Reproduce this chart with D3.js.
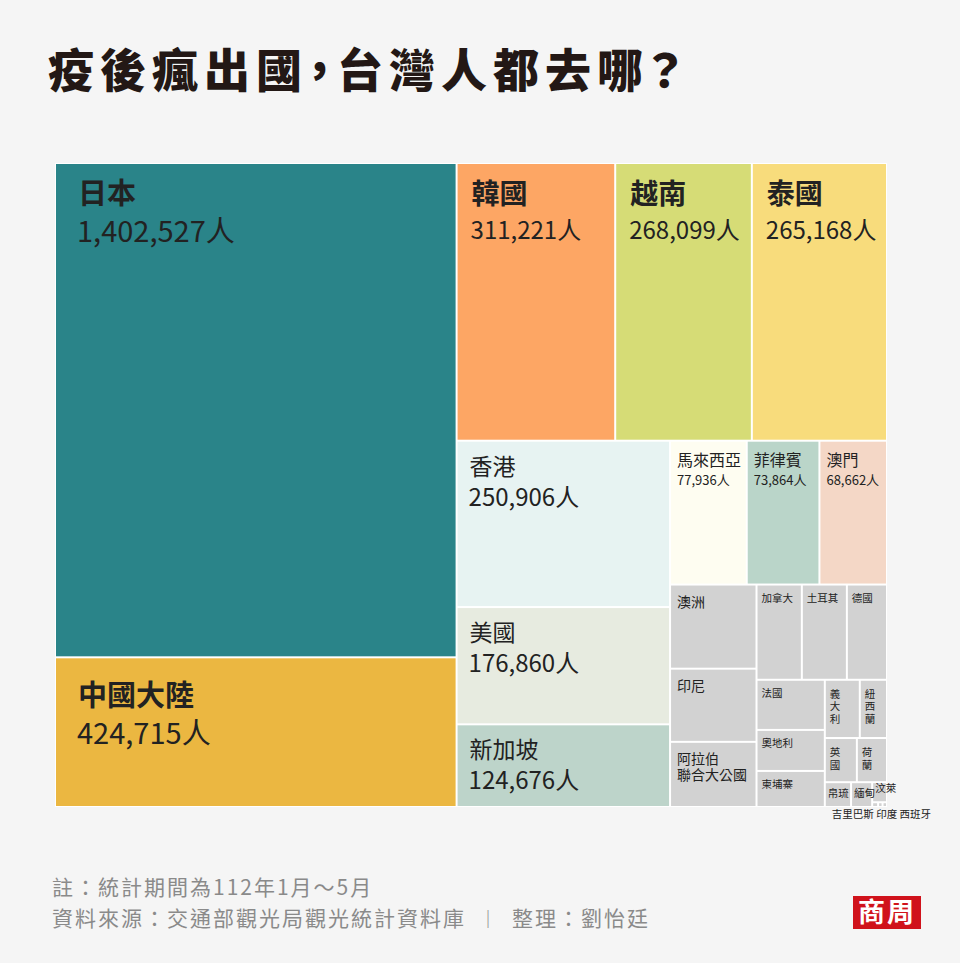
<!DOCTYPE html>
<html>
<head>
<meta charset="utf-8">
<script src="https://cdn.jsdelivr.net/npm/d3@7"></script>
<style>
  html, body { margin: 0; padding: 0; background: #f5f5f5; }
  svg { display: block; font-family: "Noto Sans CJK TC", "Noto Sans", sans-serif; }
</style>
</head>
<body>
<svg id="chart" width="960" height="963"></svg>
<script>
// 112年1月～5月 出國人次（小國數值為由圖面積估計）
const countries = [
  "日本", "中國大陸", "韓國", "越南", "泰國",
  "香港", "美國", "新加坡",
  "馬來西亞", "菲律賓", "澳門",
  "澳洲", "印尼", "阿拉伯\n聯合大公國",
  "加拿大", "土耳其", "德國",
  "法國", "奧地利", "柬埔寨",
  "義大利", "紐西蘭", "英國", "荷蘭",
  "帛琉", "緬甸", "汶萊", "吉里巴斯", "印度", "西班牙"
];
const visitors = [
  1402527, 424715, 311221, 268099, 265168,
  250906, 176860, 124676,
  77936, 73864, 68662,
  51400, 44700, 39800,
  30500, 30300, 27000,
  24200, 19800, 17400,
  14400, 11200, 10000, 9400,
  4600, 3700, 2100, 200, 150, 150
];
const colors = [
  "#2a8489", "#ebb741", "#fda664", "#d6dc76", "#f8dc7c",
  "#e7f3f2", "#e7ebe0", "#bdd4ca",
  "#fefdf1", "#bad5c9", "#f4d7c6"
];
const otherColor = "#d2d2d2";

// grouping of the indexes above, alternating columns / rows
const groups = [[0, 1], [[2, 3, 4], [[5, 6, 7], [[8, 9, 10], [[11, 12, 13], [[14, 15, 16],
  [[17, 18, 19], [[20, 21], [22, 23], [24, 25, [26, [27, 28, 29]]]]]]]]]]];

const svg = d3.select("#chart");
const chartLeft = 56, chartTop = 164, chartW = 830, chartH = 642;

//=== title ===
svg.append("text")
  .attr("x", 48).attr("y", 87)
  .attr("fill", "#231815")
  .style("font-size", "46px").style("font-weight", 900)
  .style("letter-spacing", "6px")
  .style("font-feature-settings", "'palt'")
  .text("疫後瘋出國，台灣人都去哪？");

//=== treemap ===
const build = (g) => Array.isArray(g)
  ? { children: g.map(build) }
  : { name: countries[g], value: visitors[g], index: g };

const root = d3.hierarchy(build(groups)).sum((d) => d.value || 0);

d3.treemap()
  .tile(d3.treemapSliceDice)
  .size([chartW, chartH])
  .paddingInner(2)(root);

const chart = svg.append("g").attr("transform", `translate(${chartLeft},${chartTop})`);

chart.append("rect")
  .attr("x", -1).attr("y", -1)
  .attr("width", chartW + 2).attr("height", chartH + 2)
  .attr("fill", "#ffffff");

const leaves = root.leaves();

chart.selectAll("rect.cell")
  .data(leaves)
  .join("rect")
  .attr("class", "cell")
  .attr("x", (d) => d.x0).attr("y", (d) => d.y0)
  .attr("width", (d) => Math.max(0, d.x1 - d.x0))
  .attr("height", (d) => Math.max(0, d.y1 - d.y0))
  .attr("fill", (d) => colors[d.data.index] || otherColor);

const fmt = d3.format(",");

leaves.forEach((d) => {
  const v = d.data.value;
  const w = d.x1 - d.x0, h = d.y1 - d.y0;
  const g = chart.append("g").attr("fill", "#222");

  if (v > 400000) {
    // left column: Japan, China
    const dy = d.data.index === 1 ? 8 : 0;
    g.append("text").attr("x", d.x0 + 22).attr("y", d.y0 + 40 + dy)
      .style("font-size", "29px").style("font-weight", 700)
      .text(d.data.name);
    g.append("text").attr("x", d.x0 + 21).attr("y", d.y0 + 78 + dy)
      .style("font-size", "29px")
      .text(fmt(v) + "人");
  } else if (v > 260000) {
    g.append("text").attr("x", d.x0 + 14).attr("y", d.y0 + 40)
      .style("font-size", "28px").style("font-weight", 700)
      .text(d.data.name);
    g.append("text").attr("x", d.x0 + 13).attr("y", d.y0 + 75)
      .style("font-size", "24px")
      .text(fmt(v) + "人");
  } else if (v > 100000) {
    g.append("text").attr("x", d.x0 + 12).attr("y", d.y0 + 33)
      .style("font-size", "23px")
      .text(d.data.name);
    g.append("text").attr("x", d.x0 + 11).attr("y", d.y0 + 64)
      .style("font-size", "24px")
      .text(fmt(v) + "人");
  } else if (v > 60000) {
    g.append("text").attr("x", d.x0 + 6).attr("y", d.y0 + 24)
      .style("font-size", "16px")
      .text(d.data.name);
    g.append("text").attr("x", d.x0 + 6).attr("y", d.y0 + 43)
      .style("font-size", "13px")
      .text(fmt(v) + "人");
  } else if (v > 35000) {
    d.data.name.split("\n").forEach((line, i) => {
      g.append("text").attr("x", d.x0 + 6).attr("y", d.y0 + 21 + i * 16)
        .style("font-size", "14px")
        .text(line);
    });
  } else if (v > 1000) {
    if (w < 36 && h > 40) {
      // narrow cell: one character per line
      d.data.name.split("").forEach((ch, i) => {
        g.append("text").attr("x", d.x0 + 4).attr("y", d.y0 + 17 + i * 12.5)
          .style("font-size", "10.5px")
          .text(ch);
      });
    } else {
      g.append("text").attr("x", d.x0 + (w < 30 ? 2 : 4))
        .attr("y", d.y0 + Math.min(16, h - 9))
        .style("font-size", "10.5px")
        .text(d.data.name);
    }
  }
});

// labels for the cells too small to hold them
const tiny = leaves.filter((d) => d.data.value <= 1000);
chart.append("text")
  .attr("x", d3.max(tiny, (d) => d.x1) + 45)
  .attr("y", chartH + 12)
  .attr("text-anchor", "end")
  .attr("fill", "#222")
  .style("font-size", "10.5px")
  .text(tiny.map((d) => d.data.name).join(" "));

//=== footer ===
const foot = svg.append("g").attr("fill", "#8a8a8a")
  .style("font-size", "21px").style("letter-spacing", "2px");
foot.append("text").attr("x", 52).attr("y", 895)
  .text("註：統計期間為112年1月～5月");
const src = foot.append("text").attr("x", 52).attr("y", 926)
  .text("資料來源：交通部觀光局觀光統計資料庫");
src.append("tspan").attr("dx", 13).style("font-size", "18px").text("｜");
src.append("tspan").attr("dx", 13).text("整理：劉怡廷");

//=== logo ===
const logo = svg.append("g").attr("transform", "translate(853,896)");
logo.append("rect").attr("width", 68).attr("height", 33).attr("fill", "#d0121b");
logo.append("text").attr("x", 34).attr("y", 26)
  .attr("text-anchor", "middle").attr("fill", "#ffffff")
  .style("font-size", "27px").style("font-weight", 700)
  .style("letter-spacing", "2px")
  .text("商周");
</script>
</body>
</html>
